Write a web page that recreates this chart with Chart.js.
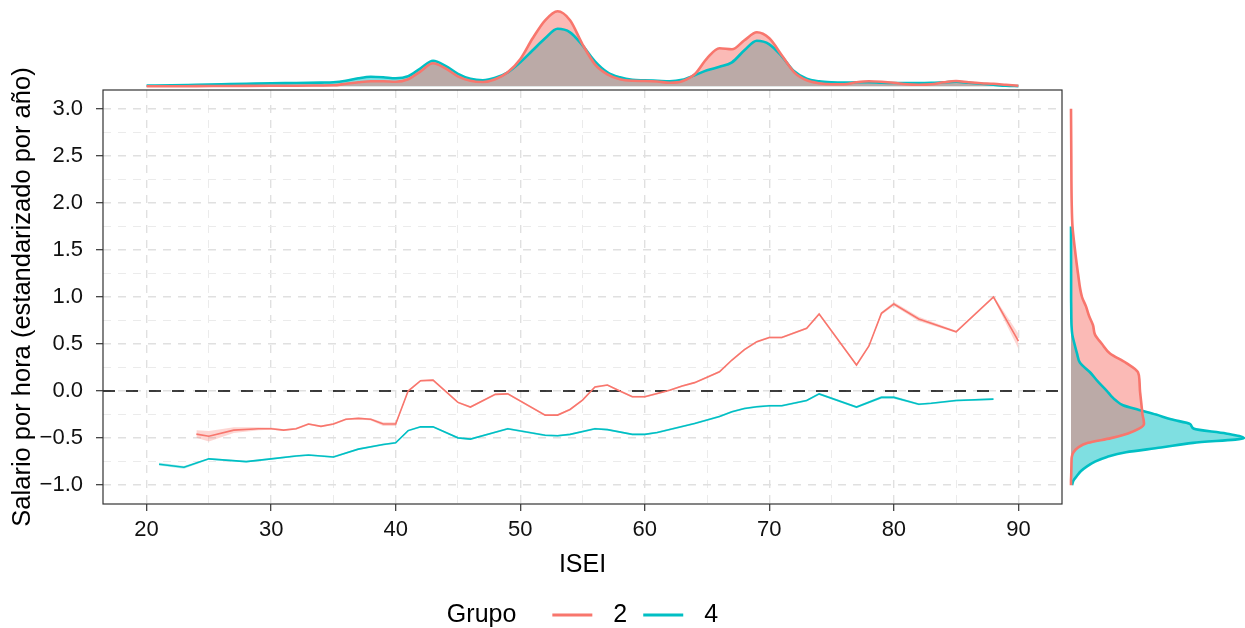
<!DOCTYPE html>
<html>
<head>
<meta charset="utf-8">
<script src="https://cdn.jsdelivr.net/npm/chart.js@4.4.1/dist/chart.umd.min.js"></script>
<style>
  html, body { margin: 0; padding: 0; background: #fff; }
  #wrap { position: relative; width: 1245px; height: 628px; overflow: hidden; }
  #wrap canvas { position: absolute; }
</style>
</head>
<body>
<div id="wrap">
  <canvas id="mainChart" width="1245" height="628" style="left:0;top:0;"></canvas>
  <canvas id="topChart" width="959" height="90" style="left:103px;top:0;"></canvas>
  <canvas id="rightChart" width="183" height="414" style="left:1062px;top:90px;"></canvas>
</div>
<script>
// --- data ---
const groups = ['2', '4'];

// group 2 (red): ISEI, mean salary, half width of the ribbon
const redIsei = [24, 25, 27, 29, 30, 31, 32, 33, 34, 35, 36, 37, 38, 39, 40, 41, 42, 43, 45, 46, 48, 49,
  52, 53, 54, 55, 56, 57, 58, 59, 60, 61, 62, 63, 64, 65, 66, 67, 68, 69, 70, 71, 73, 74, 77, 78, 79, 80, 82, 85, 88, 90];
const redSal = [-0.457, -0.48, -0.415, -0.40, -0.40, -0.415, -0.40, -0.35, -0.375, -0.35, -0.30, -0.29, -0.30, -0.35, -0.35,
  0.00, 0.11, 0.117, -0.12, -0.17, -0.035, -0.03, -0.255, -0.255, -0.195, -0.096, 0.043, 0.064, 0.0, -0.06, -0.06,
  -0.025, 0.01, 0.053, 0.09, 0.146, 0.205, 0.33, 0.44, 0.525, 0.57, 0.57, 0.667, 0.82, 0.277, 0.48, 0.826, 0.926,
  0.766, 0.63, 1.0, 0.53];
const redCi = [0.04, 0.055, 0.03, 0.015, 0.012, 0.01, 0.01, 0.01, 0.01, 0.01, 0.01, 0.01, 0.012, 0.02, 0.02,
  0.01, 0.01, 0.01, 0.01, 0.01, 0.01, 0.01, 0.01, 0.01, 0.01, 0.01, 0.01, 0.01, 0.01, 0.01, 0.01,
  0.01, 0.01, 0.01, 0.01, 0.01, 0.01, 0.01, 0.01, 0.01, 0.01, 0.01, 0.01, 0.012, 0.01, 0.01, 0.015, 0.02,
  0.025, 0.01, 0.012, 0.08];

// group 4 (teal)
const tealIsei = [21, 23, 25, 28, 30, 32, 33, 35, 37, 39, 40, 41, 42, 43, 45, 46, 49, 52, 53, 54, 56, 57, 59, 60, 61,
  64, 66, 67, 68, 69, 70, 71, 73, 74, 77, 79, 80, 82, 83, 85, 88];
const tealSal = [-0.777, -0.81, -0.72, -0.75, -0.72, -0.69, -0.68, -0.70, -0.617, -0.567, -0.55, -0.42, -0.38, -0.38,
  -0.497, -0.51, -0.40, -0.47, -0.475, -0.46, -0.40, -0.41, -0.46, -0.46, -0.44, -0.345, -0.27, -0.22, -0.185,
  -0.167, -0.156, -0.156, -0.10, -0.03, -0.17, -0.067, -0.067, -0.14, -0.13, -0.10, -0.085];
const tealCi = [0.015, 0.015, 0.01, 0.01, 0.01, 0.01, 0.01, 0.01, 0.01, 0.01, 0.01, 0.01, 0.01, 0.01,
  0.01, 0.01, 0.01, 0.01, 0.01, 0.01, 0.01, 0.01, 0.01, 0.01, 0.01, 0.01, 0.01, 0.01, 0.01,
  0.01, 0.01, 0.01, 0.01, 0.012, 0.012, 0.015, 0.015, 0.01, 0.01, 0.01, 0.01];

// top marginal: density of ISEI (relative units)
const densIsei = [20, 22, 24, 26, 28, 30, 32, 34, 35, 36, 37, 38, 39, 40, 41, 42, 43, 44, 45, 46, 47, 48, 49, 50,
  51, 52, 53, 54, 55, 56, 57, 58, 59, 60, 61, 62, 63, 64, 65, 66, 67, 68, 69, 70, 71, 72, 73, 74, 75, 76, 77, 78,
  79, 80, 81, 82, 83, 84, 85, 86, 87, 88, 89, 90];
const densTopRed = [0, 0, 0.2, 0.3, 0.4, 0.5, 0.6, 0.8, 1, 2.5, 4, 5, 5, 4.5, 7, 15, 23, 18, 10, 5.5, 4.3, 7, 14, 27,
  48, 66, 75, 66, 42, 22, 12, 7, 5.5, 5.3, 4.8, 3.5, 5, 12, 28, 38, 37, 46, 54, 48, 31, 14, 6, 3, 2, 2, 4, 5,
  4.5, 3.5, 2, 1.5, 2, 4, 5.3, 4, 3, 2.5, 1.5, 0.5];
const densTopTeal = [0.7, 1, 1.5, 2, 2.5, 3, 3.3, 3.7, 4, 5.5, 8, 9.5, 9, 8, 10, 18, 25.5, 20.5, 12.5, 7.5, 6, 8.5,
  14, 24, 36, 48, 57.5, 54, 41, 25, 14, 9, 6.5, 6, 5.5, 5, 6.5, 11, 16, 19.5, 24, 36, 45.5, 42, 30, 15, 7.5, 5,
  4, 3.7, 4, 4, 3.5, 3.3, 3.3, 3.3, 3.5, 4, 4.5, 3.5, 2.5, 1.5, 0.5, 0.2];

// right marginal: density of salary (relative units)
const densSal = [-1.0, -0.95, -0.9, -0.85, -0.8, -0.75, -0.7, -0.65, -0.6, -0.55, -0.5, -0.45, -0.4, -0.35, -0.3,
  -0.25, -0.2, -0.15, -0.1, -0.05, 0, 0.1, 0.2, 0.3, 0.4, 0.5, 0.6, 0.7, 0.8, 0.9, 1.0, 1.25, 1.5, 1.75, 2.0, 2.5, 3.0];
const densRightRed = [0, 0, 0.2, 0.3, 0.4, 0.5, 0.8, 2.5, 7, 17, 40, 57, 68, 73, 72.5, 71.5, 71, 70.5, 70, 69.5, 69,
  68.5, 67, 55, 39, 31, 24, 22, 18, 15, 11, 7, 4, 1.5, 0.7, 0.3, 0];
const densRightTeal = [1, 2.5, 6, 10, 16, 24, 36, 55, 90, 122, 173, 155, 123, 119, 100, 85, 68, 52, 45, 40, 36,
  27, 19, 9, 6, 3.5, 1.3, 0.5, 0.3, 0.2, 0.1, 0.1, 0.05, 0, null, null, null];

// axes
const xMajor = [20, 30, 40, 50, 60, 70, 80, 90];
const xMinor = [25, 35, 45, 55, 65, 75, 85];
const yMajor = [-1.0, -0.5, 0, 0.5, 1.0, 1.5, 2.0, 2.5, 3.0];
const yMajorLabels = ['\u22121.0', '\u22120.5', '0.0', '0.5', '1.0', '1.5', '2.0', '2.5', '3.0'];
const yMinor = [-0.75, -0.25, 0.25, 0.75, 1.25, 1.75, 2.25, 2.75];
const xLim = [16.5, 93.5];
const yLim = [-1.2, 3.2];

const RED = '#F8766D';
const TEAL = '#00BFC4';
const RED_FILL = 'rgba(248, 118, 109, 0.5)';
const TEAL_FILL = 'rgba(0, 191, 196, 0.5)';
const FONT = '"Liberation Sans", Arial, Helvetica, sans-serif';

const pts = (xs, ys) => xs.map((x, i) => ({ x: x, y: ys[i] }));
const band = (xs, ys, ci, sign) => xs.map((x, i) => ({ x: x, y: ys[i] + sign * ci[i] }));

const gridColor = (majors) => (c) => majors.includes(c.tick.value) ? '#e0e0e0' : '#ebebeb';
const gridWidth = (majors) => (c) => majors.includes(c.tick.value) ? 1.4 : 1.0;
const tickColor = (majors) => (c) => majors.includes(c.tick.value) ? '#333' : 'rgba(0,0,0,0)';

// panel border (ggplot theme_bw style)
const panelBox = {
  id: 'panelBox',
  afterDraw(chart) {
    const a = chart.chartArea, ctx = chart.ctx;
    ctx.save();
    ctx.strokeStyle = '#333';
    ctx.lineWidth = 1.2;
    ctx.strokeRect(a.left, a.top, a.right - a.left, a.bottom - a.top);
    ctx.restore();
  }
};

// legend at the bottom: "Grupo  — 2  — 4"
const grupoLegend = {
  id: 'grupoLegend',
  afterDraw(chart) {
    const ctx = chart.ctx, a = chart.chartArea;
    const colors = [RED, TEAL];
    ctx.save();
    ctx.font = '25px ' + FONT;
    ctx.textBaseline = 'middle';
    ctx.fillStyle = '#000';
    const y = 615;
    const title = 'Grupo';
    const parts = [ctx.measureText(title).width, 36];
    groups.forEach((g, i) => {
      parts.push(40, 21, ctx.measureText(g).width);
      if (i < groups.length - 1) parts.push(16);
    });
    const total = parts.reduce((s, v) => s + v, 0);
    let x = (a.left + a.right) / 2 - total / 2;
    ctx.fillText(title, x, y);
    x += parts[0] + parts[1];
    groups.forEach((g, i) => {
      ctx.strokeStyle = colors[i];
      ctx.lineWidth = 3;
      ctx.beginPath();
      ctx.moveTo(x, y);
      ctx.lineTo(x + 40, y);
      ctx.stroke();
      x += 40 + 21;
      ctx.fillText(g, x, y);
      x += ctx.measureText(g).width + 16;
    });
    ctx.restore();
  }
};

new Chart(document.getElementById('mainChart'), {
  type: 'line',
  data: {
    datasets: [
      { label: groups[0], data: pts(redIsei, redSal), borderColor: RED, borderWidth: 1.6, pointRadius: 0, fill: false },
      { label: groups[1], data: pts(tealIsei, tealSal), borderColor: TEAL, borderWidth: 1.6, pointRadius: 0, fill: false },
      { data: band(redIsei, redSal, redCi, 1), borderWidth: 0, borderColor: 'rgba(0,0,0,0)', pointRadius: 0,
        backgroundColor: 'rgba(248, 118, 109, 0.3)', fill: '+1' },
      { data: band(redIsei, redSal, redCi, -1), borderWidth: 0, borderColor: 'rgba(0,0,0,0)', pointRadius: 0, fill: false },
      { data: band(tealIsei, tealSal, tealCi, 1), borderWidth: 0, borderColor: 'rgba(0,0,0,0)', pointRadius: 0,
        backgroundColor: 'rgba(0, 191, 196, 0.3)', fill: '+1' },
      { data: band(tealIsei, tealSal, tealCi, -1), borderWidth: 0, borderColor: 'rgba(0,0,0,0)', pointRadius: 0, fill: false },
      // reference line at 0
      { data: [{ x: xLim[0], y: 0 }, { x: xLim[1], y: 0 }], borderColor: '#000', borderWidth: 1.5,
        borderDash: [12, 11], pointRadius: 0, fill: false }
    ]
  },
  options: {
    responsive: false,
    animation: false,
    layout: { padding: { left: 0, top: 90, right: 183, bottom: 0 } },
    elements: { line: { tension: 0 } },
    plugins: {
      legend: { display: false },
      tooltip: { enabled: false },
      filler: { drawTime: 'beforeDatasetsDraw' }
    },
    scales: {
      x: {
        type: 'linear',
        min: xLim[0],
        max: xLim[1],
        afterBuildTicks: (s) => { s.ticks = xMajor.concat(xMinor).sort((a, b) => a - b).map(v => ({ value: v })); },
        afterFit: (s) => { s.height = 124; },
        ticks: {
          autoSkip: false,
          maxRotation: 0,
          padding: 6,
          color: '#111',
          font: { family: FONT, size: 22 },
          callback: (v) => xMajor.includes(v) ? String(v) : ''
        },
        grid: {
          color: gridColor(xMajor),
          lineWidth: gridWidth(xMajor),
          tickLength: 7,
          tickWidth: 1.2,
          tickColor: tickColor(xMajor),
          tickBorderDash: []
        },
        border: { display: false, dash: [8, 7] },
        title: {
          display: true,
          text: 'ISEI',
          color: '#000',
          font: { family: FONT, size: 25 },
          padding: { top: 0, bottom: 48 }
        }
      },
      y: {
        min: yLim[0],
        max: yLim[1],
        afterBuildTicks: (s) => { s.ticks = yMajor.concat(yMinor).sort((a, b) => a - b).map(v => ({ value: v })); },
        afterFit: (s) => { s.width = 103; },
        ticks: {
          autoSkip: false,
          padding: 13,
          color: '#111',
          font: { family: FONT, size: 22 },
          callback: (v) => { const i = yMajor.indexOf(v); return i >= 0 ? yMajorLabels[i] : ''; }
        },
        grid: {
          color: gridColor(yMajor),
          lineWidth: gridWidth(yMajor),
          tickLength: 7,
          tickWidth: 1.2,
          tickColor: tickColor(yMajor),
          tickBorderDash: []
        },
        border: { display: false, dash: [8, 7] },
        title: {
          display: true,
          text: 'Salario por hora (estandarizado por año)',
          color: '#000',
          font: { family: FONT, size: 25.5 },
          padding: { top: 8, bottom: 0 }
        }
      }
    }
  },
  plugins: [panelBox, grupoLegend]
});

// top marginal density
new Chart(document.getElementById('topChart'), {
  type: 'line',
  data: {
    datasets: [
      { data: pts(densIsei, densTopRed), borderColor: RED, backgroundColor: RED_FILL, borderWidth: 2.6,
        pointRadius: 0, fill: 'origin', cubicInterpolationMode: 'monotone' },
      { data: pts(densIsei, densTopTeal), borderColor: TEAL, backgroundColor: TEAL_FILL, borderWidth: 2.6,
        pointRadius: 0, fill: 'origin', cubicInterpolationMode: 'monotone' }
    ]
  },
  options: {
    responsive: false,
    animation: false,
    layout: { padding: 0 },
    plugins: { legend: { display: false }, tooltip: { enabled: false }, filler: { drawTime: 'beforeDatasetsDraw' } },
    scales: {
      x: { type: 'linear', min: xLim[0], max: xLim[1], display: false },
      y: { min: -3.7, max: 86.3, display: false }
    }
  }
});

// right marginal density (rotated)
new Chart(document.getElementById('rightChart'), {
  type: 'line',
  data: {
    datasets: [
      { data: densSal.map((v, i) => ({ x: densRightRed[i], y: v })), borderColor: RED, backgroundColor: RED_FILL,
        borderWidth: 2.6, pointRadius: 0, fill: 'origin', cubicInterpolationMode: 'monotone' },
      { data: densSal.map((v, i) => ({ x: densRightTeal[i], y: v })), borderColor: TEAL, backgroundColor: TEAL_FILL,
        borderWidth: 2.6, pointRadius: 0, fill: 'origin', cubicInterpolationMode: 'monotone' }
    ]
  },
  options: {
    indexAxis: 'y',
    responsive: false,
    animation: false,
    layout: { padding: 0 },
    plugins: { legend: { display: false }, tooltip: { enabled: false }, filler: { drawTime: 'beforeDatasetsDraw' } },
    scales: {
      x: { type: 'linear', min: -9, max: 174, display: false },
      y: { type: 'linear', min: yLim[0], max: yLim[1], display: false }
    }
  }
});
</script>
</body>
</html>
